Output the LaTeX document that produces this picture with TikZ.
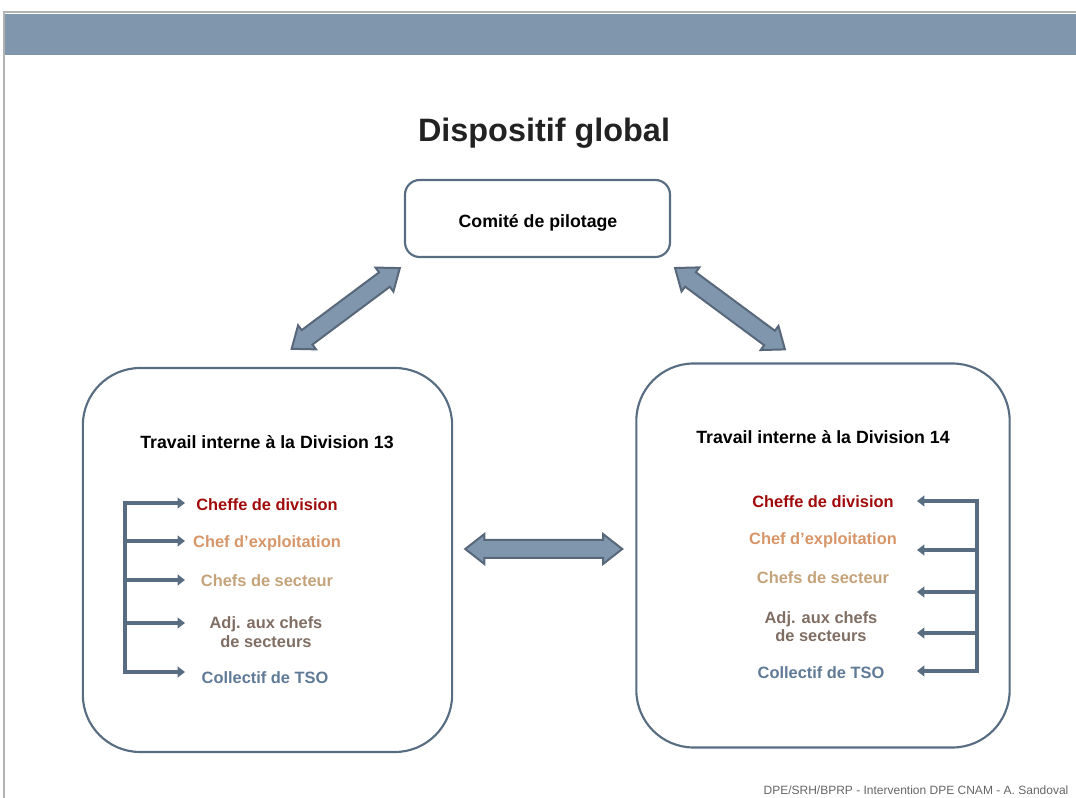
\documentclass[tikz,border=0pt]{standalone}
\usepackage{fontspec}
\setmainfont{Liberation Sans}
\usetikzlibrary{shapes.arrows,arrows.meta,calc}
\definecolor{bandblue}{RGB}{128,150,173}
\definecolor{boxline}{RGB}{88,108,130}
\definecolor{arrowfill}{RGB}{127,150,173}
\definecolor{arrowline}{RGB}{88,104,122}
\definecolor{cdiv}{RGB}{160,10,10}
\definecolor{cexp}{RGB}{214,150,105}
\definecolor{csec}{RGB}{196,163,122}
\definecolor{cadj}{RGB}{128,110,100}
\definecolor{ctso}{RGB}{95,122,150}
\definecolor{titlegray}{RGB}{34,34,34}

\begin{document}
\begin{tikzpicture}[x=0.75pt,y=-0.75pt]
            \tikzstyle{every node}+=[inner sep=0pt]
            \tikzstyle{item}=[font=\fontsize{12.3}{13.9}\selectfont\bfseries, align=center]
            \tikzstyle{heading}=[font=\fontsize{13.3}{16}\selectfont\bfseries, anchor=base]
            \tikzstyle{bigbox}=[draw=boxline, line width=1.6pt, rounded corners=43pt]
            \tikzstyle{bus}=[boxline, line width=3pt]
            \tikzstyle{fatarrow}=[double arrow, draw=arrowline, fill=arrowfill, line width=1.5pt, inner xsep=0pt, inner ysep=6pt, double arrow head extend=4.5pt, double arrow tip angle=76]
            \useasboundingbox (0,0) rectangle (1076,798);
            \fill [bandblue] (5,14) rectangle (1076,55);
            \draw [black!30, line width=1pt] (1076,12) -- (4,12) -- (4,798);
            \node [font=\fontsize{24.3}{28}\selectfont\bfseries, text=titlegray, anchor=base] (title) at (544,142) {Dispositif global};
            \draw [bigbox, rounded corners=11pt] (405,180) rectangle (670,257);
            \coordinate (comite) at (537.5,218.5);
            \node [heading] (comitetext) at (538,228) {Comité de pilotage};
            \node [bigbox, minimum width=277pt, minimum height=288pt] (div13) at (267.5,560) {};
            \node [bigbox, minimum width=280pt, minimum height=288pt] (div14) at (823,555.5) {};
            \node [heading] (head13) at (267,449) {Travail interne à la Division 13};
            \node [heading] (head14) at (823,444) {Travail interne à la Division 14};
            \node [item, anchor=base, text=cdiv] (l1) at (267,511) {Cheffe de division};
            \node [item, anchor=base, text=cexp] (l2) at (267,548) {Chef d’exploitation};
            \node [item, anchor=base, text=csec] (l3) at (267,587) {Chefs de secteur};
            \node [item, text=cadj] (l4) at (266,632) {Adj. aux chefs\\ de secteurs};
            \node [item, anchor=base, text=ctso] (l5) at (265,684) {Collectif de TSO};
            \node [item, anchor=base, text=cdiv] (r1) at (823,508) {Cheffe de division};
            \node [item, anchor=base, text=cexp] (r2) at (823,545) {Chef d’exploitation};
            \node [item, anchor=base, text=csec] (r3) at (823,584) {Chefs de secteur};
            \node [item, text=cadj] (r4) at (821,626.5) {Adj. aux chefs\\ de secteurs};
            \node [item, anchor=base, text=ctso] (r5) at (821,679) {Collectif de TSO};
            \coordinate (lt) at (125,501);
            \coordinate (lb) at (125,674);
            \coordinate (rt) at (977,499);
            \coordinate (rb) at (977,673);
            \draw [bus] (lt) -- (lb);
            \draw [bus] (rt) -- (rb);
            \foreach \y/\n in {503/1,541/2,580/3,623/4,672/5}
                \coordinate (la\n) at (185,\y);
            \foreach \y/\n in {501/1,550/2,592/3,633/4,671/5}
                \coordinate (ra\n) at (917,\y);
            \foreach \n in {1,...,5}
                {
                \draw [bus, -{Triangle[length=5.5pt,width=8pt]}] (lt |- la\n) -- (la\n);
                \draw [bus, -{Triangle[length=5.5pt,width=8pt]}] (rt |- ra\n) -- (ra\n);
                }
            \coordinate (a13) at ($(div13.north)+(24,-18)$);
            \coordinate (c13) at (400,268);
            \coordinate (a14) at ($(div14.north)+(-38,-13)$);
            \coordinate (c14) at (675,268);
            \coordinate (m13) at ($(div13.east)+(12,-11)$);
            \coordinate (m14) at ($(div14.west)+(-13,-6.5)$);
            \path let \p1=($(c13)-(a13)$), \n1={veclen(\x1,\y1)} in (a13) -- (c13) node [fatarrow, midway, sloped, minimum height=\n1] (link13) {};
            \path let \p1=($(c14)-(a14)$), \n1={veclen(\x1,\y1)} in (c14) -- (a14) node [fatarrow, midway, sloped, minimum height=\n1] (link14) {};
            \path let \p1=($(m14)-(m13)$), \n1={veclen(\x1,\y1)} in (m13) -- (m14) node [fatarrow, midway, sloped, minimum height=\n1] (linkdiv) {};
            \node [font=\fontsize{9}{11}\selectfont, text=black!60, anchor=base] (footer) at (916,795) {DPE/SRH/BPRP - Intervention DPE CNAM - A. Sandoval};
\end{tikzpicture}
\end{document}
